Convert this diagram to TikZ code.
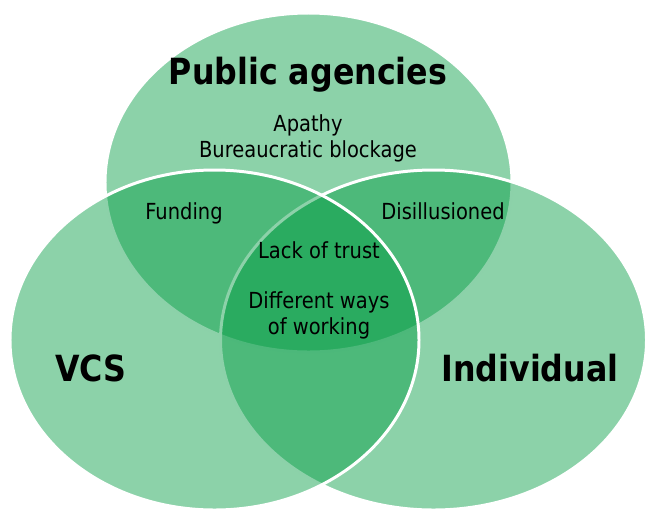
\documentclass[tikz,border=0pt]{standalone}
\usepackage{fontspec}
\setmainfont{DejaVu Sans}[FakeStretch=0.88]
\usetikzlibrary{positioning}

\definecolor{venngreen}{RGB}{0,155,65}

\tikzset{
    set/.style={fill=venngreen, fill opacity=0.45, draw=white, draw opacity=1, line width=1.7pt},
    title/.style={font=\fontsize{20.5}{24}\selectfont\bfseries, text=black},
    issue/.style={font=\fontsize{12.6}{14.9}\selectfont, text=black, align=center}
}

\begin{document}
\begin{tikzpicture}[x=0.02cm, y=-0.02cm]
    \useasboundingbox (0,0) rectangle (648,511);
    % Define sets
    \draw[set] (308.5,182.5) ellipse [x radius=203.5, y radius=169.5];
    \draw[set] (433.5,340) ellipse [x radius=213, y radius=170];
    \draw[set] (214.5,340) ellipse [x radius=204.5, y radius=170];
    % Set names
    \node[title] (public) at (308,75) {Public agencies};
    \node[title] (vcs) at (91,368) {VCS};
    \node[title] (individual) at (530,368) {Individual};
    % Issues
    \node[issue] (apathy) at (308,138.5) {Apathy\\Bureaucratic blockage};
    \node[issue] (funding) at (184,213) {Funding};
    \node[issue] (disillusioned) at (443,211) {Disillusioned};
    \node[issue] (trust) at (319,250) {Lack of trust};
    \node[issue] (ways) at (319,315) {Different ways\\of working};

\end{tikzpicture}
\end{document}
